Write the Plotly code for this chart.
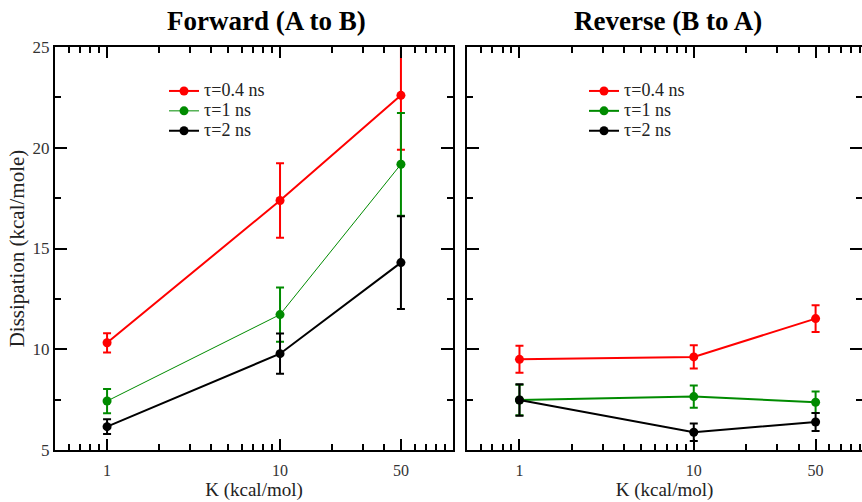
import plotly.graph_objects as go
import math

K = [1, 10, 50]

series_names = ["τ=0.4 ns", "τ=1 ns", "τ=2 ns"]
series_colors = ["#ff0000", "#008b00", "#000000"]

fwd_y = [
    [10.32, 17.38, 22.6],
    [7.43, 11.72, 19.18],
    [6.16, 9.78, 14.3],
]
fwd_err = [
    [0.48, 1.85, 2.7],
    [0.6, 1.35, 2.55],
    [0.37, 1.0, 2.3],
]
rev_y = [
    [9.5, 9.62, 11.52],
    [7.48, 7.65, 7.37],
    [7.48, 5.88, 6.39],
]
rev_err = [
    [0.67, 0.58, 0.66],
    [0.76, 0.55, 0.53],
    [0.78, 0.43, 0.45],
]
fwd_line_widths = [2, 1, 2]
rev_line_widths = [2, 2, 2]

y_ticks = [5, 10, 15, 20, 25]
x_tickvals = [1, 10, 50]
x_minor = [0.6, 0.7, 0.8, 0.9, 2, 3, 4, 5, 6, 7, 8, 9, 20, 30, 40, 60, 70, 80, 90]

W, H = 862, 502
FONT = "Liberation Serif, Times New Roman, serif"


def legend_label(s):
    return "<span style='font-size:18px'>" + s + "</span>"


fig = go.Figure()

for i in range(3):
    fig.add_trace(go.Scatter(
        x=K, y=fwd_y[i], name=legend_label(series_names[i]), mode="lines+markers",
        line=dict(color=series_colors[i], width=fwd_line_widths[i]),
        marker=dict(color=series_colors[i], size=9),
        error_y=dict(type="data", array=fwd_err[i], color=series_colors[i], thickness=2, width=4),
        xaxis="x", yaxis="y", legend="legend",
    ))
for i in range(3):
    fig.add_trace(go.Scatter(
        x=K, y=rev_y[i], name=legend_label(series_names[i]), mode="lines+markers",
        line=dict(color=series_colors[i], width=rev_line_widths[i]),
        marker=dict(color=series_colors[i], size=9),
        error_y=dict(type="data", array=rev_err[i], color=series_colors[i], thickness=2, width=4),
        xaxis="x2", yaxis="y2", legend="legend2",
    ))
# helper trace for the right-side mirrored ticks of the right panel
fig.add_trace(go.Scatter(x=[], y=[], xaxis="x2", yaxis="y3", showlegend=False, hoverinfo="skip"))

ydom = [(H - 450) / H, (H - 47) / H]
xdom1 = [55 / W, 453 / W]
xdom2 = [467 / W, 1.0]
lo = math.log10(0.5)
x2_hi = lo + (862 - 467) / 174.3

xcommon = dict(
    type="log", ticks="inside", ticklen=11, tickwidth=2, tickcolor="black",
    showline=True, linewidth=2, linecolor="black", mirror="ticks",
    showgrid=False, zeroline=False, automargin=False,
    tickmode="array", tickvals=x_tickvals, ticktext=[str(v) for v in x_tickvals],
    tickfont=dict(family=FONT, size=16, color="#333333"), ticklabelstandoff=5,
    minor=dict(tickmode="array", tickvals=x_minor, ticks="inside", ticklen=6,
               tickwidth=2, tickcolor="black", showgrid=False),
    title=dict(text="K (kcal/mol)", font=dict(family=FONT, size=19, color="#222222"), standoff=4),
)
ycommon = dict(
    range=[5, 25], ticks="inside", ticklen=12, tickwidth=2, tickcolor="black",
    showline=True, linewidth=2, linecolor="black",
    showgrid=False, zeroline=False, automargin=False,
    tickmode="array", tickvals=y_ticks,
    tickfont=dict(family=FONT, size=17, color="#333333"), ticklabelstandoff=0,
    minor=dict(dtick=2.5, ticks="inside", ticklen=6, tickwidth=2, tickcolor="black", showgrid=False),
    domain=ydom,
)
legend_font = dict(family=FONT, size=13, color="#222222")

fig.update_layout(
    width=W, height=H,
    margin=dict(l=0, r=0, t=0, b=0),
    paper_bgcolor="white", plot_bgcolor="white",
    xaxis=dict(xcommon, domain=xdom1, range=[lo, 2.0], anchor="y"),
    xaxis2=dict(xcommon, domain=xdom2, range=[lo, x2_hi], anchor="y2"),
    yaxis=dict(ycommon, anchor="x", mirror="ticks",
               title=dict(text="Dissipation (kcal/mole)", font=dict(family=FONT, size=21, color="#222222"), standoff=2)),
    yaxis2=dict(ycommon, anchor="x2", mirror=False, showticklabels=False),
    yaxis3=dict(ycommon, anchor="x2", overlaying="y2", side="right", showline=False, showticklabels=False),
    legend=dict(x=164 / W, y=1 - 76 / H, xanchor="left", yanchor="top",
                bgcolor="rgba(0,0,0,0)", font=legend_font, tracegroupgap=0, itemwidth=30),
    legend2=dict(x=584 / W, y=1 - 76 / H, xanchor="left", yanchor="top",
                 bgcolor="rgba(0,0,0,0)", font=legend_font, tracegroupgap=0, itemwidth=30),
    annotations=[
        dict(text="<b>Forward (A to B)</b>", x=266 / W, y=1 - 21 / H,
             xref="paper", yref="paper", xanchor="center", yanchor="middle", showarrow=False,
             font=dict(family=FONT, size=27, color="black")),
        dict(text="<b>Reverse (B to A)</b>", x=668 / W, y=1 - 21 / H,
             xref="paper", yref="paper", xanchor="center", yanchor="middle", showarrow=False,
             font=dict(family=FONT, size=27, color="black")),
    ],
    showlegend=True,
)

fig.write_html("out.html", config={"displayModeBar": False},
               post_script="document.body.style.margin='0';document.body.style.padding='0';")
